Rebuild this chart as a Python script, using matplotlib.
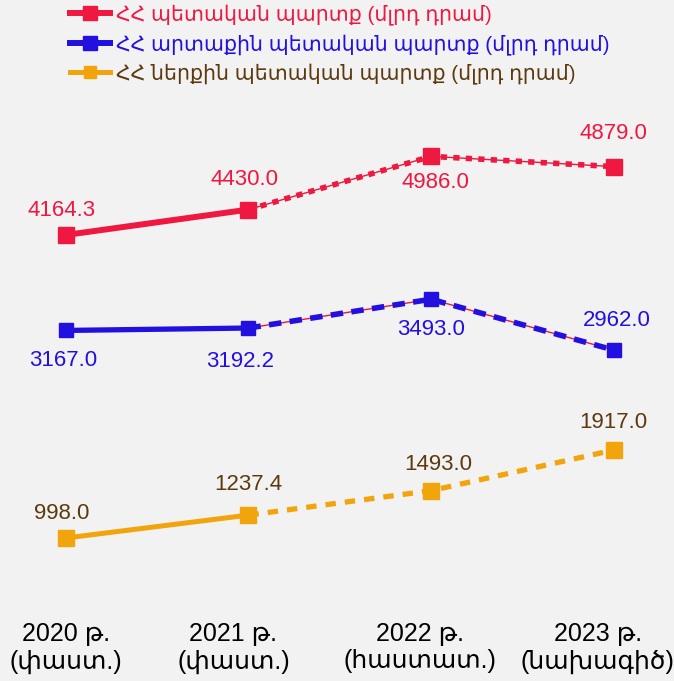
import matplotlib
matplotlib.use("Agg")
import matplotlib.pyplot as plt
import matplotlib.transforms as mtransforms
from matplotlib.lines import Line2D

plt.rcParams['font.family'] = ['Liberation Sans', 'DejaVu Sans']
plt.rcParams['lines.scale_dashes'] = False

# ---- data ----
years = ["2020 թ.\n(փաստ.)", "2021 թ.\n(փաստ.)", "2022 թ.\n(հաստատ.)", "2023 թ.\n(նախագիծ)"]
total_debt = [4164.3, 4430.0, 4986.0, 4879.0]
external_debt = [3167.0, 3192.2, 3493.0, 2962.0]
domestic_debt = [998.0, 1237.4, 1493.0, 1917.0]
series_names = ["ՀՀ պետական պարտք (մլրդ դրամ)",
                "ՀՀ արտաքին պետական պարտք (մլրդ դրամ)",
                "ՀՀ ներքին պետական պարտք (մլրդ դրամ)"]
n_actual = 2  # first two years are actual values (solid), rest dashed

RED = "#EE1840"
BLUE = "#2210E0"
ORANGE = "#F2A40C"
BROWN = "#5C3A0E"

W, H = 674, 681
fig = plt.figure(figsize=(W / 100, H / 100), dpi=100)
fig.patch.set_facecolor("#f2f2f2")
ax = fig.add_axes([0, 1 - 605 / H, 1, 605 / H])
ax.set_facecolor("none")
ax.set_xlim(-0.36, 3.33)
ax.set_ylim(298, 6620)
for s in ax.spines.values():
    s.set_visible(False)
ax.set_yticks([])

x = list(range(len(years)))
xs_solid = x[:n_actual]
xs_dash = x[n_actual - 1:]

# total debt (red)
ax.plot(xs_solid, total_debt[:n_actual], color=RED, lw=4.3, solid_capstyle='butt', zorder=3)
ax.plot(xs_dash, total_debt[n_actual - 1:], color=RED, lw=1.0, zorder=3)
ax.plot(xs_dash, total_debt[n_actual - 1:], color=RED, lw=4.0, dashes=(4.5, 4.5), zorder=3)
ax.plot(x, total_debt, 's', color=RED, ms=11, zorder=4)

# external debt (blue)
ax.plot(xs_solid, external_debt[:n_actual], color=BLUE, lw=3.8, solid_capstyle='butt', zorder=3)
ax.plot(xs_dash, external_debt[n_actual - 1:], color=RED, lw=1.0, zorder=3)
ax.plot(xs_dash, external_debt[n_actual - 1:], color=BLUE, lw=4.0, dashes=(9, 6), zorder=3)
ax.plot(x, external_debt, 's', color=BLUE, ms=10.5, zorder=4)

# domestic debt (orange)
ax.plot(xs_solid, domestic_debt[:n_actual], color=ORANGE, lw=3.6, solid_capstyle='butt', zorder=3)
ax.plot(xs_dash, domestic_debt[n_actual - 1:], color=ORANGE, lw=3.8, dashes=(7.5, 6.5), zorder=3)
ax.plot(x, domestic_debt, 's', color=ORANGE, ms=11, zorder=4)

# value labels (offsets in points)
red_off = [(-3, 18), (-3, 22), (3, -19), (0, 24)]
blue_off = [(-2, -22), (-6, -24), (0, -22), (2, 21)]
orng_off = [(-3, 18), (0, 22), (5, 19), (0, 20)]
for vals, offs, col in [(total_debt, red_off, RED), (external_debt, blue_off, BLUE),
                        (domestic_debt, orng_off, BROWN)]:
    for xi, v, off in zip(x, vals, offs):
        ax.annotate(f"{v:.1f}", (xi, v), xytext=off, textcoords="offset points",
                    ha="center", va="center", fontsize=16, color=col, zorder=5)

ax.set_xticks(x)
ax.set_xticklabels(years, fontsize=18, linespacing=1.2, color="black")
ax.tick_params(axis='x', length=0, pad=12)
label_shift_px = [0, -15, -11, -16]
for lab, dx in zip(ax.get_xticklabels(), label_shift_px):
    lab.set_transform(lab.get_transform() +
                      mtransforms.ScaledTranslation(dx / 100, 0, fig.dpi_scale_trans))

handles = [
    Line2D([], [], color=RED, lw=4.3, marker='s', ms=10),
    Line2D([], [], color=BLUE, lw=4.3, marker='s', ms=10),
    Line2D([], [], color=ORANGE, lw=3.6, marker='s', ms=9),
]
leg = fig.legend(handles, series_names, loc="upper left",
                 bbox_to_anchor=(70 / W, 1 - 4 / H), frameon=False,
                 fontsize=14.8, handlelength=1.95, handletextpad=0.3,
                 labelspacing=0.42, borderpad=0, borderaxespad=0)
for t, c in zip(leg.get_texts(), [RED, BLUE, BROWN]):
    t.set_color(c)

fig.savefig("out.png", dpi=100, facecolor=fig.get_facecolor())
